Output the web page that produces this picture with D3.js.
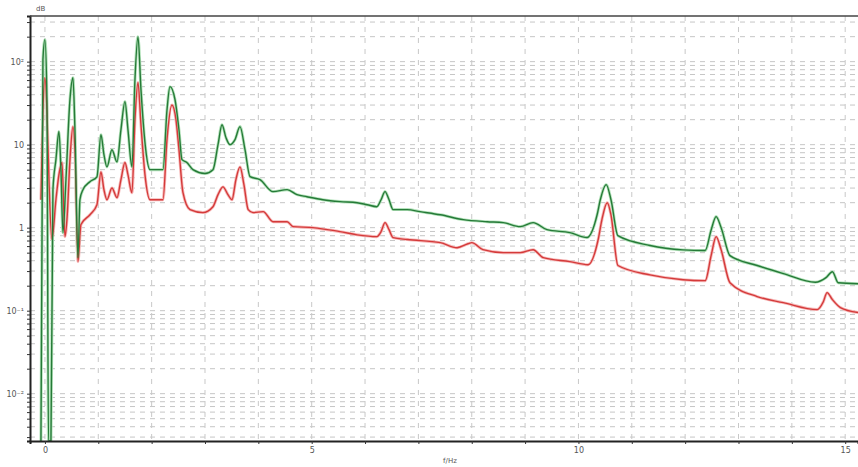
<!DOCTYPE html>
<html><head><meta charset="utf-8">
<script src="https://cdn.jsdelivr.net/npm/d3@7"></script>
<style>body{margin:0;background:#fff}svg{display:block}</style>
</head><body>
<svg id="c" width="858" height="467"></svg>
<script>
const freqG = [-0.075,-0.0375,0,0.0375,0.066,0.1125,0.15,0.206,0.2625,0.3,0.3375,0.394,0.469,0.525,0.5625,0.619,0.656,0.7125,0.844,0.975,1.05,1.106,1.1625,1.256,1.35,1.425,1.5,1.556,1.631,1.6875,1.744,1.8,1.875,1.969,2.2125,2.2875,2.344,2.4375,2.5125,2.569,2.66,2.775,3.0,3.15,3.244,3.319,3.394,3.469,3.5625,3.656,3.75,
  3.844,4.03,4.275,4.54,4.725,4.91,5.21,5.53,5.85,6.04,6.22,6.30,6.375,6.45,6.525,6.79,7.03,7.41,7.84,8.29,8.59,8.91,9.15,9.41,9.84,10.16,10.35,10.41,10.52,10.61,10.74,
  11.34,11.96,12.375,12.49,12.58,12.675,12.84,13.35,13.84,14.44,14.64,14.76,14.87,15.24];
const green = [0.001,106,184,35,0.001,0.001,2.87,6.6,14.4,5.0,0.87,3.8,35,64,15,0.435,2.17,2.87,3.58,4.1,13.2,7.6,5.4,8.7,6.2,15.2,33,15.2,5.4,61,200,46,10.6,5.0,5.0,26,50,35,15,6.6,6.1,5.0,4.5,5.0,10,17.4,12.1,10,11.5,16.5,8.7,
  4.12,3.79,2.72,2.87,2.50,2.36,2.17,2.06,2.0,1.89,1.79,2.17,2.72,2.17,1.65,1.65,1.56,1.43,1.25,1.18,1.15,1.03,1.15,0.946,0.87,0.76,1.43,2.17,3.3,2.17,0.80,
  0.61,0.54,0.53,0.95,1.36,1.0,0.46,0.35,0.28,0.22,0.25,0.295,0.217,0.211];
const freqR = [-0.075,-0.0375,0,0.0375,0.075,0.131,0.206,0.2625,0.319,0.375,0.4125,0.469,0.525,0.5625,0.619,0.675,0.844,0.975,1.05,1.106,1.1625,1.256,1.35,1.425,1.5,1.556,1.631,1.6875,1.744,1.8,1.875,1.969,2.2125,2.2875,2.381,2.456,2.5125,2.5875,2.72,2.96,3.15,3.244,3.3375,3.43,3.506,3.58,3.656,3.73,
  3.81,3.90,4.09,4.275,4.54,4.65,5.025,5.29,5.53,5.85,6.22,6.30,6.375,6.45,6.525,6.79,7.41,7.725,7.93,8.0,8.21,8.59,8.91,9.15,9.34,9.84,10.18,10.37,10.44,10.54,10.61,10.74,
  11.34,11.96,12.375,12.49,12.58,12.675,12.84,13.35,13.84,14.475,14.59,14.66,14.76,14.91,15.24];
const red = [2.17,26,64,26,3.8,0.72,2.17,4.35,6.1,0.78,1.25,6.6,16.5,8.7,0.39,1.09,1.43,1.89,4.7,2.87,2.17,3.0,2.3,3.8,6.1,4.35,2.64,20,56,17.4,4.35,2.17,2.17,11.5,30,20,8.7,2.64,1.65,1.52,1.79,2.5,3.1,2.5,2.17,3.8,5.4,3.3,
  1.65,1.52,1.56,1.18,1.18,1.03,1.0,0.946,0.895,0.82,0.78,0.895,1.15,0.946,0.76,0.72,0.66,0.574,0.64,0.66,0.543,0.50,0.50,0.543,0.435,0.39,0.358,0.72,1.25,2.0,1.43,0.35,
  0.27,0.236,0.23,0.47,0.78,0.54,0.217,0.148,0.125,0.103,0.128,0.165,0.136,0.109,0.095];
const xTicks = [0,5,10,15];
const yTickVals = [100,10,1,0.1,0.01];
const yTickLabels = ["10²","10","1","10⁻¹","10⁻²"];
const yTitle = "dB";
const xTitle = "f/Hz";

const svg = d3.select("#c");
const L=30,R=858,T=16,B=441;
const x = d3.scaleLinear().domain([-0.28,15.24]).range([L,R]);
const y = d3.scaleLog().domain([Math.pow(10,-2.57),Math.pow(10,2.55)]).range([B,T]).clamp(true);

// grid
const hg = [];
for(let e=-3;e<=2;e++) for(let m=1;m<=9;m++){const v=m*Math.pow(10,e); if(v>=y.domain()[0]&&v<=y.domain()[1]) hg.push(v);}
svg.append("g").selectAll("line").data(hg).join("line")
  .attr("x1",L).attr("x2",R).attr("y1",d=>y(d)).attr("y2",d=>y(d))
  .attr("stroke","#c6c6c6").attr("stroke-width",1).attr("stroke-dasharray","5,5");
const vg = d3.range(0,16);
svg.append("g").selectAll("line").data(vg).join("line")
  .attr("x1",d=>x(d)).attr("x2",d=>x(d)).attr("y1",T).attr("y2",B)
  .attr("stroke","#c8c8c8").attr("stroke-width",1).attr("stroke-dasharray","5,6");

// series
const line = d3.line().curve(d3.curveMonotoneX).x(d=>x(d[0])).y(d=>y(d[1]));
const gData = freqG.map((f,i)=>[f,green[i]]);
const rData = freqR.map((f,i)=>[f,red[i]]);
svg.append("defs").append("clipPath").attr("id","cp").append("rect").attr("x",L).attr("y",T).attr("width",R-L).attr("height",B-T);
const plot = svg.append("g").attr("clip-path","url(#cp)");
plot.append("path").datum(rData).attr("d",line).attr("fill","none").attr("stroke","#f6b8b8").attr("stroke-width",3).attr("stroke-linejoin","round");
plot.append("path").datum(gData).attr("d",line).attr("fill","none").attr("stroke","#b3e2ba").attr("stroke-width",3).attr("stroke-linejoin","round");
plot.append("path").datum(rData).attr("d",line).attr("fill","none").attr("stroke","#d43a3a").attr("stroke-width",1.4).attr("stroke-linejoin","round");
plot.append("path").datum(gData).attr("d",line).attr("fill","none").attr("stroke","#267a38").attr("stroke-width",1.4).attr("stroke-linejoin","round");

// axes
const xa = svg.append("g").attr("transform",`translate(0,${B})`)
  .call(d3.axisBottom(x).tickValues(d3.range(0,16)).tickSize(3).tickFormat(d=>xTicks.includes(d)?String(d):""));
xa.select(".domain").attr("stroke","#222").attr("stroke-width",2);
xa.selectAll("line").attr("stroke","#333");
xa.selectAll("text").attr("font-family","DejaVu Sans").attr("font-size",8).attr("fill","#555");
const ya = svg.append("g").attr("transform",`translate(${L},0)`)
  .call(d3.axisLeft(y).tickValues(hg).tickSize(3).tickFormat(d=>{const i=yTickVals.findIndex(v=>Math.abs(v-d)<1e-9*v);return i>=0?yTickLabels[i]:"";}));
ya.select(".domain").attr("stroke","#222").attr("stroke-width",2);
ya.selectAll("line").attr("stroke","#333");
ya.selectAll("text").attr("font-family","DejaVu Sans").attr("font-size",8).attr("fill","#555");
svg.append("line").attr("x1",L).attr("x2",R).attr("y1",T).attr("y2",T).attr("stroke","#444").attr("stroke-width",1.5);
svg.append("text").attr("x",36).attr("y",11).attr("font-family","DejaVu Sans").attr("font-size",7).attr("fill","#555").text(yTitle);
svg.append("text").attr("x",450).attr("y",463).attr("text-anchor","middle").attr("font-family","DejaVu Sans").attr("font-size",7).attr("fill","#555").text(xTitle);
</script>
</body></html>
